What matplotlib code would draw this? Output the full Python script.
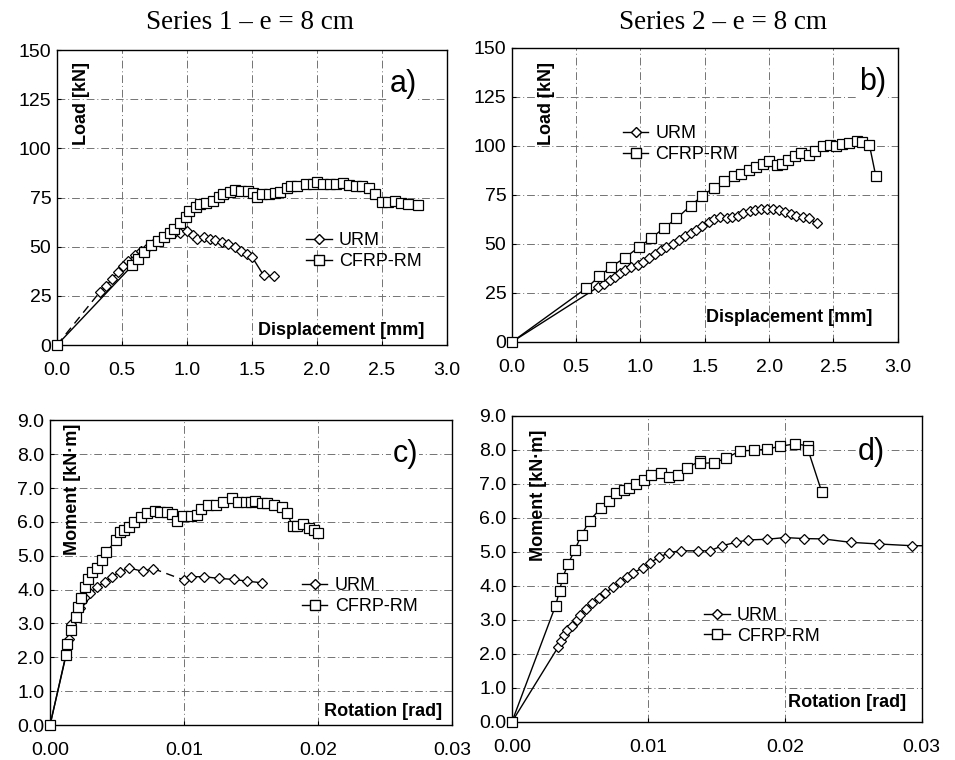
"""
Load-displacement and moment-rotation curves, URM vs CFRP-RM
"""
from itertools import groupby
import numpy as np
import matplotlib
matplotlib.use('Agg')
import matplotlib.pyplot as plt
from matplotlib.lines import Line2D
from matplotlib.ticker import FormatStrFormatter

plt.rcParams['font.family'] = ['Liberation Sans', 'DejaVu Sans']

# ---- panel a) Series 1, load vs displacement
a_urm_x = [0.0, 0.33, 0.38, 0.42, 0.47, 0.51, 0.55, 0.60, 0.65, 0.70, 0.75, 0.80,
           0.85, 0.90, 0.95, 1.00, 1.05, 1.08, 1.13, 1.18, 1.22, 1.27, 1.32,
           1.37, 1.42, 1.46, 1.50, 1.59, 1.67]
a_urm_y = [0, 27, 30, 33.5, 37, 40, 43, 46, 48, 50, 52, 54,
           56, 57, 57, 58, 56, 54, 55, 54, 53.5, 52.5, 51.5,
           50, 48, 46.5, 45, 35.5, 35]
a_cfrp_x = [0.0, 0.58, 0.62, 0.67, 0.72, 0.78, 0.82, 0.87, 0.90, 0.95, 0.99, 1.02,
            1.07, 1.10, 1.15, 1.20, 1.25, 1.28, 1.33, 1.37, 1.42, 1.47, 1.51,
            1.54, 1.58, 1.63, 1.68, 1.72, 1.77, 1.80, 1.85, 1.92, 1.97, 2.00,
            2.05, 2.10, 2.15, 2.20, 2.25, 2.30, 2.35, 2.40, 2.45, 2.50, 2.55,
            2.60, 2.65, 2.70, 2.78]
a_cfrp_y = [0, 40.5, 44, 47.5, 51, 53, 55, 57, 59, 62, 65, 68,
            70, 71.5, 72, 73.5, 75.5, 77, 78, 79, 78.5, 78.5, 77.5,
            75.5, 77, 77, 77.5, 78, 80, 81, 81, 82, 82, 83,
            82, 82, 82, 82.5, 81.5, 81, 81, 80, 77, 73, 73,
            73.5, 72.5, 71.5, 71]

# ---- panel b) Series 2, load vs displacement
b_urm_x = [0.0, 0.67, 0.72, 0.76, 0.80, 0.84, 0.88, 0.93, 0.98, 1.02, 1.07, 1.11,
           1.16, 1.20, 1.25, 1.30, 1.35, 1.39, 1.43, 1.48, 1.53, 1.57, 1.62,
           1.67, 1.71, 1.76, 1.80, 1.85, 1.89, 1.94, 1.98, 2.03, 2.08, 2.12,
           2.17, 2.21, 2.26, 2.31, 2.37]
b_urm_y = [0, 28, 29.8, 31.5, 33, 35, 36.5, 38, 39.5, 41, 43, 45,
           47, 48.5, 50, 52, 54, 55.5, 57, 59, 61, 62.5, 63.5,
           63, 63.5, 64.5, 66, 67, 67.5, 68, 68, 68, 67.5, 66.5,
           65.5, 64.5, 64, 63, 60.5]
b_cfrp_x = [0.0, 0.58, 0.68, 0.77, 0.88, 0.99, 1.08, 1.18, 1.28, 1.39, 1.48, 1.57,
            1.65, 1.73, 1.78, 1.84, 1.90, 1.95, 2.00, 2.06, 2.10, 2.15, 2.20,
            2.25, 2.31, 2.36, 2.42, 2.47, 2.52, 2.57, 2.62, 2.68, 2.72, 2.78,
            2.83]
b_cfrp_y = [0, 27.5, 33.5, 38.3, 43, 48.5, 52.8, 58, 63, 69.5, 74.5, 78.7,
            82.3, 84.7, 85.5, 87.5, 89.5, 91, 92.5, 90.5, 91, 93, 95,
            96.5, 95.5, 97.5, 100, 100.5, 100, 101, 101.5, 102.5, 102, 100.5,
            84.5]

# ---- panel c) Series 1, moment vs rotation
c_urm_x = [0.0, 0.0012, 0.0014, 0.0016, 0.0019, 0.0022, 0.0024, 0.0027, 0.0030,
           0.0035, 0.0041, 0.0046, 0.0052, 0.0059, 0.0069, 0.0077, 0.0100,
           0.0105, 0.0115, 0.0126, 0.0137, 0.0147, 0.0158]
c_urm_y = [0, 2.1, 2.53, 2.97, 3.2, 3.45, 3.65, 3.8, 3.9,
           4.08, 4.23, 4.38, 4.52, 4.64, 4.54, 4.62, 4.28,
           4.38, 4.38, 4.33, 4.3, 4.25, 4.2]
c_cfrp_x = [0.0, 0.0012, 0.0013, 0.0016, 0.0019, 0.0021, 0.0023, 0.0026, 0.0028,
            0.0031, 0.0035, 0.0039, 0.0042, 0.0049, 0.0052, 0.0055, 0.0059,
            0.0063, 0.0068, 0.0072, 0.0078, 0.0082, 0.0087, 0.0091, 0.0095,
            0.0099, 0.0105, 0.0110, 0.0113, 0.0118, 0.0124, 0.0129, 0.0136,
            0.0140, 0.0146, 0.0150, 0.0153, 0.0158, 0.0162, 0.0167, 0.0173,
            0.0177, 0.0181, 0.0184, 0.0189, 0.0193, 0.0197, 0.0200]
c_cfrp_y = [0, 2.07, 2.4, 2.8, 3.2, 3.5, 3.74, 4.08, 4.3,
            4.52, 4.65, 4.87, 5.1, 5.45, 5.7, 5.75, 5.85,
            6.0, 6.15, 6.25, 6.32, 6.28, 6.3, 6.22, 6.03,
            6.17, 6.18, 6.2, 6.38, 6.5, 6.5, 6.6, 6.7,
            6.6, 6.6, 6.6, 6.63, 6.55, 6.55, 6.5, 6.45,
            6.25, 5.88, 5.88, 5.93, 5.82, 5.75, 5.68]

# ---- panel d) Series 2, moment vs rotation
d_urm_x = [0.0, 0.0034, 0.0036, 0.0038, 0.0040, 0.0044, 0.0048, 0.0050, 0.0054,
           0.0059, 0.0064, 0.0068, 0.0074, 0.0079, 0.0084, 0.0089, 0.0096,
           0.0101, 0.0108, 0.0115, 0.0124, 0.0136, 0.0145, 0.0154, 0.0164,
           0.0173, 0.0187, 0.0200, 0.0214, 0.0228, 0.0248, 0.0269, 0.0293,
           0.0302]
d_urm_y = [0, 2.21, 2.38, 2.55, 2.7, 2.82, 3.01, 3.15, 3.31,
           3.5, 3.65, 3.78, 3.96, 4.12, 4.27, 4.39, 4.53,
           4.68, 4.84, 4.98, 5.03, 5.03, 5.03, 5.18, 5.28,
           5.35, 5.37, 5.42, 5.39, 5.38, 5.28, 5.23, 5.18,
           5.18]
d_cfrp_x = [0.0, 0.0032, 0.0035, 0.0037, 0.0041, 0.0046, 0.0051, 0.0057, 0.0065,
            0.0071, 0.0076, 0.0082, 0.0086, 0.0091, 0.0097, 0.0102, 0.0109,
            0.0115, 0.0122, 0.0128, 0.0138, 0.0138, 0.0148, 0.0157, 0.0167,
            0.0177, 0.0187, 0.0196, 0.0207, 0.0217, 0.0217, 0.0227]
d_cfrp_y = [0, 3.42, 3.86, 4.22, 4.63, 5.05, 5.5, 5.92, 6.28,
            6.5, 6.74, 6.82, 6.87, 7.0, 7.1, 7.26, 7.33,
            7.19, 7.26, 7.46, 7.68, 7.6, 7.62, 7.75, 7.97,
            7.98, 8.02, 8.1, 8.17, 8.12, 7.98, 6.75]

series_names = ['URM', 'CFRP-RM']
titles = ['Series 1 \u2013 e = 8 cm', 'Series 2 \u2013 e = 8 cm']


def plot_series(ax, x, y, marker, ms, dashed=(), n_marked=None):
    x = np.asarray(x)
    y = np.asarray(y)
    # line pieces, solid or dashed
    for is_dash, grp in groupby(range(len(x) - 1), key=lambda i: i in dashed):
        g = list(grp)
        s, e = g[0], g[-1] + 2
        ax.plot(x[s:e], y[s:e], color='black', lw=1.0,
                ls=(0, (6, 4)) if is_dash else '-', zorder=3)
    n = len(x) if n_marked is None else n_marked
    ax.plot(x[:n], y[:n], ls='none', marker=marker, ms=ms, mfc='white',
            mec='black', mew=0.9, clip_on=False, zorder=4)


def style_axes(ax, xmax, xstep, ymax, ystep, xfmt, yfmt):
    ax.set_xlim(0, xmax)
    ax.set_ylim(0, ymax)
    ax.set_xticks(np.arange(0, xmax + xstep / 2, xstep))
    ax.set_yticks(np.arange(0, ymax + ystep / 2, ystep))
    ax.xaxis.set_major_formatter(FormatStrFormatter(xfmt))
    ax.yaxis.set_major_formatter(FormatStrFormatter(yfmt))
    ax.tick_params(direction='in', length=3, labelsize=14, width=0.8)
    ax.tick_params(axis='x', pad=12)
    ax.tick_params(axis='y', pad=4)
    ax.grid(True, color='0.45', lw=0.7, ls=(0, (8, 3, 1, 3)))
    ax.set_axisbelow(True)
    for sp in ax.spines.values():
        sp.set_linewidth(1.0)


fig = plt.figure(figsize=(9.55, 7.6), dpi=100)
ax_a = fig.add_axes([0.0597, 0.546, 0.408, 0.388])
ax_b = fig.add_axes([0.536, 0.550, 0.404, 0.387])
ax_c = fig.add_axes([0.0524, 0.046, 0.421, 0.401])
ax_d = fig.add_axes([0.536, 0.050, 0.429, 0.403])

plot_series(ax_a, a_urm_x, a_urm_y, 'D', 5.5, dashed=(0,))
plot_series(ax_a, a_cfrp_x, a_cfrp_y, 's', 7.5)
plot_series(ax_b, b_urm_x, b_urm_y, 'D', 5.5)
plot_series(ax_b, b_cfrp_x, b_cfrp_y, 's', 7.5)
plot_series(ax_c, c_urm_x, c_urm_y, 'D', 5.5, dashed=(15,))
plot_series(ax_c, c_cfrp_x, c_cfrp_y, 's', 7.5)
plot_series(ax_d, d_urm_x, d_urm_y, 'D', 5.5, n_marked=len(d_urm_x) - 1)
plot_series(ax_d, d_cfrp_x, d_cfrp_y, 's', 7.5)

for ax in (ax_a, ax_b):
    style_axes(ax, 3.0, 0.5, 150, 25, '%.1f', '%d')
for ax in (ax_c, ax_d):
    style_axes(ax, 0.03, 0.01, 9.0, 1.0, '%.2f', '%.1f')

# axis names written inside the frames
ylab = [(ax_a, 'Load [kN]', 0.064, 0.96), (ax_b, 'Load [kN]', 0.09, 0.952),
        (ax_c, 'Moment [kN\u00b7m]', 0.055, 0.99), (ax_d, 'Moment [kN\u00b7m]', 0.066, 0.954)]
for ax, txt, x, y in ylab:
    ax.text(x, y, txt, transform=ax.transAxes, rotation=90, ha='center', va='top',
            fontsize=13, fontweight='bold', zorder=5)
xlab = [(ax_a, 'Displacement [mm]', 0.944, 0.05), (ax_b, 'Displacement [mm]', 0.935, 0.083),
        (ax_c, 'Rotation [rad]', 0.975, 0.046), (ax_d, 'Rotation [rad]', 0.963, 0.065)]
for ax, txt, x, y in xlab:
    ax.text(x, y, txt, transform=ax.transAxes, ha='right', va='center',
            fontsize=13, fontweight='bold', zorder=5)

letters = [(ax_a, 'a)', 0.923, 0.885), (ax_b, 'b)', 0.97, 0.884),
           (ax_c, 'c)', 0.915, 0.89), (ax_d, 'd)', 0.91, 0.88)]
for ax, txt, x, y in letters:
    ax.text(x, y, txt, transform=ax.transAxes, ha='right', va='center', fontsize=22,
            bbox=dict(facecolor='white', edgecolor='none', pad=1), zorder=5)

handles = [Line2D([], [], color='black', lw=1.0, marker='D', ms=5.5, mfc='white', mec='black'),
           Line2D([], [], color='black', lw=1.0, marker='s', ms=7.5, mfc='white', mec='black')]
leg_pos = [(ax_a, 0.64, 0.318), (ax_b, 0.288, 0.673), (ax_c, 0.627, 0.423), (ax_d, 0.47, 0.314)]
for ax, x, y in leg_pos:
    ax.legend(handles, series_names, loc='center left', bbox_to_anchor=(x, y),
              frameon=False, fontsize=13, handlelength=1.4, handletextpad=0.4,
              labelspacing=0.2, borderpad=0, borderaxespad=0)

fig.text(250 / 955, 0.97, titles[0], ha='center', va='center',
         fontsize=19.5, family=['Liberation Serif', 'DejaVu Serif'])
fig.text(723 / 955, 0.97, titles[1], ha='center', va='center',
         fontsize=19.5, family=['Liberation Serif', 'DejaVu Serif'])

fig.savefig('out.png', dpi=100)
